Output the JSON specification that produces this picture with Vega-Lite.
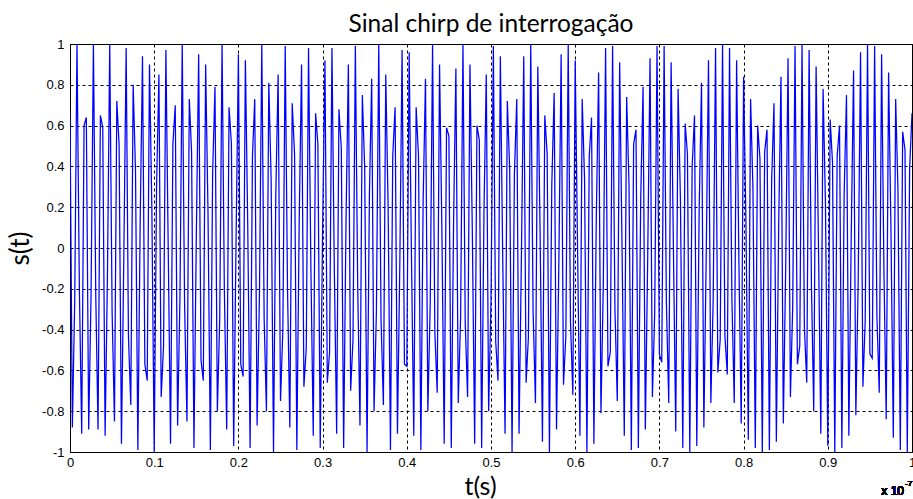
{
  "$schema": "https://vega.github.io/schema/vega-lite/v6.json",
  "autosize": {"type": "none"},
  "width": 842,
  "height": 408,
  "padding": {"left": 70, "top": 44, "right": 1, "bottom": 47},
  "background": "white",
  "config": {
    "view": {"stroke": "black", "strokeWidth": 1},
    "font": "Liberation Sans"
  },
  "title": {
    "text": "Sinal chirp de interrogação",
    "font": "Lato",
    "fontSize": 24.5,
    "fontWeight": "normal",
    "color": "black",
    "anchor": "middle",
    "offset": 1
  },
  "data": {
    "values": [
      {"t":0,"s":0.66},{"t":0.0028,"s":-0.88},{"t":0.0056,"s":-0.26},{"t":0.0083,"s":1},{"t":0.0111,"s":-0.19},{"t":0.0139,"s":-0.91},{"t":0.0167,"s":0.6},{"t":0.0194,"s":0.64},{"t":0.0222,"s":-0.89},{"t":0.025,"s":-0.23},{"t":0.0278,"s":1},{"t":0.0306,"s":-0.23},{"t":0.0333,"s":-0.89},{"t":0.0361,"s":0.65},{"t":0.0389,"s":0.59},{"t":0.0417,"s":-0.92},{"t":0.0444,"s":-0.16},{"t":0.0472,"s":1},{"t":0.05,"s":-0.31},{"t":0.0528,"s":-0.85},{"t":0.0556,"s":0.72},{"t":0.0583,"s":0.51},{"t":0.0611,"s":-0.96},{"t":0.0639,"s":-0.05},{"t":0.0667,"s":0.98},{"t":0.0694,"s":-0.43},{"t":0.0722,"s":-0.77},{"t":0.075,"s":0.8},{"t":0.0778,"s":0.38},{"t":0.0806,"s":-0.99},{"t":0.0833,"s":0.11},{"t":0.0861,"s":0.94},{"t":0.0889,"s":-0.57},{"t":0.0917,"s":-0.65},{"t":0.0944,"s":0.9},{"t":0.0972,"s":0.2},
      {"t":0.1,"s":-1},{"t":0.1028,"s":0.3},{"t":0.1056,"s":0.85},{"t":0.1083,"s":-0.73},{"t":0.1111,"s":-0.48},{"t":0.1139,"s":0.97},{"t":0.1167,"s":-0.02},{"t":0.1194,"s":-0.96},{"t":0.1222,"s":0.51},{"t":0.125,"s":0.7},{"t":0.1278,"s":-0.87},{"t":0.1306,"s":-0.24},{"t":0.1333,"s":1},{"t":0.1361,"s":-0.28},{"t":0.1389,"s":-0.85},{"t":0.1417,"s":0.73},{"t":0.1444,"s":0.47},{"t":0.1472,"s":-0.98},{"t":0.15,"s":0.05},{"t":0.1528,"s":0.95},{"t":0.1556,"s":-0.55},{"t":0.1583,"s":-0.65},{"t":0.1611,"s":0.9},{"t":0.1639,"s":0.17},{"t":0.1667,"s":-0.99},{"t":0.1694,"s":0.37},{"t":0.1722,"s":0.79},{"t":0.175,"s":-0.8},{"t":0.1778,"s":-0.35},{"t":0.1806,"s":1},{"t":0.1833,"s":-0.2},{"t":0.1861,"s":-0.89},{"t":0.1889,"s":0.69},{"t":0.1917,"s":0.51},{"t":0.1944,"s":-0.97},{"t":0.1972,"s":0.03},
      {"t":0.2,"s":0.95},{"t":0.2028,"s":-0.57},{"t":0.2056,"s":-0.63},{"t":0.2083,"s":0.92},{"t":0.2111,"s":0.11},{"t":0.2139,"s":-0.98},{"t":0.2167,"s":0.45},{"t":0.2194,"s":0.73},{"t":0.2222,"s":-0.87},{"t":0.225,"s":-0.23},{"t":0.2278,"s":1},{"t":0.2306,"s":-0.35},{"t":0.2333,"s":-0.8},{"t":0.2361,"s":0.81},{"t":0.2389,"s":0.33},{"t":0.2417,"s":-1},{"t":0.2444,"s":0.26},{"t":0.2472,"s":0.85},{"t":0.25,"s":-0.75},{"t":0.2528,"s":-0.4},{"t":0.2556,"s":0.99},{"t":0.2583,"s":-0.19},{"t":0.2611,"s":-0.88},{"t":0.2639,"s":0.71},{"t":0.2667,"s":0.46},{"t":0.2694,"s":-0.99},{"t":0.2722,"s":0.13},{"t":0.275,"s":0.9},{"t":0.2778,"s":-0.68},{"t":0.2806,"s":-0.49},{"t":0.2833,"s":0.98},{"t":0.2861,"s":-0.1},{"t":0.2889,"s":-0.92},{"t":0.2917,"s":0.66},{"t":0.2944,"s":0.51},{"t":0.2972,"s":-0.98},
      {"t":0.3,"s":0.09},{"t":0.3028,"s":0.92},{"t":0.3056,"s":-0.66},{"t":0.3083,"s":-0.51},{"t":0.3111,"s":0.98},{"t":0.3139,"s":-0.1},{"t":0.3167,"s":-0.91},{"t":0.3194,"s":0.68},{"t":0.3222,"s":0.49},{"t":0.325,"s":-0.98},{"t":0.3278,"s":0.13},{"t":0.3306,"s":0.9},{"t":0.3333,"s":-0.7},{"t":0.3361,"s":-0.45},{"t":0.3389,"s":0.99},{"t":0.3417,"s":-0.19},{"t":0.3444,"s":-0.87},{"t":0.3472,"s":0.75},{"t":0.35,"s":0.39},{"t":0.3528,"s":-1},{"t":0.3556,"s":0.26},{"t":0.3583,"s":0.83},{"t":0.3611,"s":-0.8},{"t":0.3639,"s":-0.31},{"t":0.3667,"s":1},{"t":0.3694,"s":-0.35},{"t":0.3722,"s":-0.77},{"t":0.375,"s":0.85},{"t":0.3778,"s":0.21},{"t":0.3806,"s":-0.99},{"t":0.3833,"s":0.45},{"t":0.3861,"s":0.69},{"t":0.3889,"s":-0.91},{"t":0.3917,"s":-0.08},{"t":0.3944,"s":0.97},{"t":0.3972,"s":-0.57},
      {"t":0.4,"s":-0.58},{"t":0.4028,"s":0.96},{"t":0.4056,"s":-0.06},{"t":0.4083,"s":-0.92},{"t":0.4111,"s":0.69},{"t":0.4139,"s":0.45},{"t":0.4167,"s":-0.99},{"t":0.4194,"s":0.23},{"t":0.4222,"s":0.83},{"t":0.425,"s":-0.8},{"t":0.4278,"s":-0.28},{"t":0.4306,"s":1},{"t":0.4333,"s":-0.41},{"t":0.4361,"s":-0.71},{"t":0.4389,"s":0.9},{"t":0.4417,"s":0.08},{"t":0.4444,"s":-0.96},{"t":0.4472,"s":0.59},{"t":0.45,"s":0.55},{"t":0.4528,"s":-0.98},{"t":0.4556,"s":0.14},{"t":0.4583,"s":0.88},{"t":0.4611,"s":-0.76},{"t":0.4639,"s":-0.34},{"t":0.4667,"s":1},{"t":0.4694,"s":-0.37},{"t":0.4722,"s":-0.73},{"t":0.475,"s":0.9},{"t":0.4778,"s":0.09},{"t":0.4806,"s":-0.96},{"t":0.4833,"s":0.6},{"t":0.4861,"s":0.53},{"t":0.4889,"s":-0.98},{"t":0.4917,"s":0.19},{"t":0.4944,"s":0.85},{"t":0.4972,"s":-0.8},
      {"t":0.5,"s":-0.26},{"t":0.5028,"s":0.99},{"t":0.5056,"s":-0.46},{"t":0.5083,"s":-0.65},{"t":0.5111,"s":0.94},{"t":0.5139,"s":-0.04},{"t":0.5167,"s":-0.91},{"t":0.5194,"s":0.72},{"t":0.5222,"s":0.38},{"t":0.525,"s":-1},{"t":0.5278,"s":0.36},{"t":0.5306,"s":0.73},{"t":0.5333,"s":-0.91},{"t":0.5361,"s":-0.05},{"t":0.5389,"s":0.94},{"t":0.5417,"s":-0.66},{"t":0.5444,"s":-0.44},{"t":0.5472,"s":1},{"t":0.55,"s":-0.31},{"t":0.5528,"s":-0.76},{"t":0.5556,"s":0.89},{"t":0.5583,"s":0.08},{"t":0.5611,"s":-0.95},{"t":0.5639,"s":0.65},{"t":0.5667,"s":0.46},{"t":0.5694,"s":-1},{"t":0.5722,"s":0.31},{"t":0.575,"s":0.76},{"t":0.5778,"s":-0.89},{"t":0.5806,"s":-0.07},{"t":0.5833,"s":0.95},{"t":0.5861,"s":-0.67},{"t":0.5889,"s":-0.43},{"t":0.5917,"s":1},{"t":0.5944,"s":-0.36},{"t":0.5972,"s":-0.72},
      {"t":0.6,"s":0.92},{"t":0.6028,"s":0},{"t":0.6056,"s":-0.92},{"t":0.6083,"s":0.73},{"t":0.6111,"s":0.34},{"t":0.6139,"s":-1},{"t":0.6167,"s":0.45},{"t":0.6194,"s":0.64},{"t":0.6222,"s":-0.96},{"t":0.625,"s":0.13},{"t":0.6278,"s":0.86},{"t":0.6306,"s":-0.81},{"t":0.6333,"s":-0.2},{"t":0.6361,"s":0.98},{"t":0.6389,"s":-0.58},{"t":0.6417,"s":-0.51},{"t":0.6444,"s":0.99},{"t":0.6472,"s":-0.3},{"t":0.65,"s":-0.75},{"t":0.6528,"s":0.91},{"t":0.6556,"s":0.01},{"t":0.6583,"s":-0.92},{"t":0.6611,"s":0.74},{"t":0.6639,"s":0.31},{"t":0.6667,"s":-0.99},{"t":0.6694,"s":0.51},{"t":0.6722,"s":0.58},{"t":0.675,"s":-0.98},{"t":0.6778,"s":0.24},{"t":0.6806,"s":0.79},{"t":0.6833,"s":-0.89},{"t":0.6861,"s":-0.05},{"t":0.6889,"s":0.93},{"t":0.6917,"s":-0.73},{"t":0.6944,"s":-0.32},{"t":0.6972,"s":0.99},
      {"t":0.7,"s":-0.52},{"t":0.7028,"s":-0.56},{"t":0.7056,"s":0.99},{"t":0.7083,"s":-0.27},{"t":0.7111,"s":-0.76},{"t":0.7139,"s":0.91},{"t":0.7167,"s":-0.02},{"t":0.7194,"s":-0.9},{"t":0.7222,"s":0.78},{"t":0.725,"s":0.23},{"t":0.7278,"s":-0.98},{"t":0.7306,"s":0.61},{"t":0.7333,"s":0.46},{"t":0.7361,"s":-1},{"t":0.7389,"s":0.4},{"t":0.7417,"s":0.65},{"t":0.7444,"s":-0.97},{"t":0.7472,"s":0.18},{"t":0.75,"s":0.81},{"t":0.7528,"s":-0.88},{"t":0.7556,"s":-0.04},{"t":0.7583,"s":0.92},{"t":0.7611,"s":-0.76},{"t":0.7639,"s":-0.25},{"t":0.7667,"s":0.98},{"t":0.7694,"s":-0.61},{"t":0.7722,"s":-0.45},{"t":0.775,"s":1},{"t":0.7778,"s":-0.43},{"t":0.7806,"s":-0.62},{"t":0.7833,"s":0.98},{"t":0.7861,"s":-0.25},{"t":0.7889,"s":-0.76},{"t":0.7917,"s":0.92},{"t":0.7944,"s":-0.06},{"t":0.7972,"s":-0.86},
      {"t":0.8,"s":0.84},{"t":0.8028,"s":0.12},{"t":0.8056,"s":-0.94},{"t":0.8083,"s":0.73},{"t":0.8111,"s":0.29},{"t":0.8139,"s":-0.98},{"t":0.8167,"s":0.6},{"t":0.8194,"s":0.44},{"t":0.8222,"s":-1},{"t":0.825,"s":0.47},{"t":0.8278,"s":0.58},{"t":0.8306,"s":-0.99},{"t":0.8333,"s":0.33},{"t":0.8361,"s":0.71},{"t":0.8389,"s":-0.95},{"t":0.8417,"s":0.12},{"t":0.8444,"s":0.84},{"t":0.8472,"s":-0.86},{"t":0.85,"s":-0.09},{"t":0.8528,"s":0.93},{"t":0.8556,"s":-0.73},{"t":0.8583,"s":-0.29},{"t":0.8611,"s":0.99},{"t":0.8639,"s":-0.57},{"t":0.8667,"s":-0.48},{"t":0.8694,"s":1},{"t":0.8722,"s":-0.39},{"t":0.875,"s":-0.66},{"t":0.8778,"s":0.97},{"t":0.8806,"s":-0.19},{"t":0.8833,"s":-0.8},{"t":0.8861,"s":0.89},{"t":0.8889,"s":0.02},{"t":0.8917,"s":-0.91},{"t":0.8944,"s":0.78},{"t":0.8972,"s":0.22},
      {"t":0.9,"s":-0.97},{"t":0.9028,"s":0.63},{"t":0.9056,"s":0.42},{"t":0.9083,"s":-1},{"t":0.9111,"s":0.45},{"t":0.9139,"s":0.6},{"t":0.9167,"s":-0.98},{"t":0.9194,"s":0.26},{"t":0.9222,"s":0.75},{"t":0.925,"s":-0.92},{"t":0.9278,"s":0.05},{"t":0.9306,"s":0.87},{"t":0.9333,"s":-0.82},{"t":0.9361,"s":-0.16},{"t":0.9389,"s":0.96},{"t":0.9417,"s":-0.68},{"t":0.9444,"s":-0.36},{"t":0.9472,"s":1},{"t":0.95,"s":-0.52},{"t":0.9528,"s":-0.54},{"t":0.9556,"s":0.99},{"t":0.9583,"s":-0.33},{"t":0.9611,"s":-0.71},{"t":0.9639,"s":0.95},{"t":0.9667,"s":-0.12},{"t":0.9694,"s":-0.84},{"t":0.9722,"s":0.86},{"t":0.975,"s":0.09},{"t":0.9778,"s":-0.93},{"t":0.9806,"s":0.73},{"t":0.9833,"s":0.29},{"t":0.9861,"s":-0.99},{"t":0.9889,"s":0.57},{"t":0.9917,"s":0.48},{"t":0.9944,"s":-1},{"t":0.9972,"s":0.39},
      {"t":1,"s":0.66}
    ]
  },
  "layer": [
    {
      "mark": {"type": "line", "color": "#0000ff", "strokeWidth": 1.25, "clip": true},
      "encoding": {
        "x": {
          "field": "t",
          "type": "quantitative",
          "scale": {"domain": [0, 1], "nice": false, "zero": false},
          "axis": {
            "values": [0, 0.1, 0.2, 0.3, 0.4, 0.5, 0.6, 0.7, 0.8, 0.9, 1],
            "format": ".1~f",
            "title": "t(s)",
            "titleFont": "Lato",
            "titleFontSize": 25,
            "titleFontWeight": "normal",
            "titleColor": "black",
            "titlePadding": 5,
            "titleX": 410,
            "labelFont": "Liberation Sans",
            "labelFontSize": 13,
            "labelColor": "black",
            "labelPadding": 4,
            "labelFlush": false,
            "labelOverlap": false,
            "ticks": false,
            "domainColor": "black",
            "grid": true,
            "gridColor": "black",
            "gridOpacity": 1,
            "gridDash": [3, 3],
            "gridWidth": 1
          }
        },
        "y": {
          "field": "s",
          "type": "quantitative",
          "scale": {"domain": [-1, 1], "nice": false},
          "axis": {
            "values": [-1, -0.8, -0.6, -0.4, -0.2, 0, 0.2, 0.4, 0.6, 0.8, 1],
            "labelExpr": "(datum.value < 0 ? '-' : '') + format(abs(datum.value), '.1~f')",
            "title": "s(t)",
            "titleFont": "Lato",
            "titleFontSize": 26,
            "titleFontWeight": "normal",
            "titleColor": "black",
            "titlePadding": 8,
            "labelFont": "Liberation Sans",
            "labelFontSize": 13,
            "labelColor": "black",
            "labelPadding": 6,
            "labelFlush": false,
            "labelOverlap": false,
            "ticks": false,
            "domainColor": "black",
            "grid": true,
            "gridColor": "black",
            "gridOpacity": 1,
            "gridDash": [3, 3],
            "gridWidth": 1
          }
        }
      }
    },
    {
      "mark": {"type": "text", "text": "x 10", "font": "Liberation Sans", "fontSize": 12, "color": "black", "align": "right", "baseline": "alphabetic", "dx": -8, "dy": 43},
      "encoding": {
        "x": {"datum": 1, "type": "quantitative"},
        "y": {"datum": -1, "type": "quantitative"}
      }
    },
    {
      "mark": {"type": "text", "text": "-7", "font": "Liberation Sans", "fontSize": 8, "color": "black", "align": "left", "baseline": "alphabetic", "dx": -7, "dy": 34},
      "encoding": {
        "x": {"datum": 1, "type": "quantitative"},
        "y": {"datum": -1, "type": "quantitative"}
      }
    }
  ]
}
